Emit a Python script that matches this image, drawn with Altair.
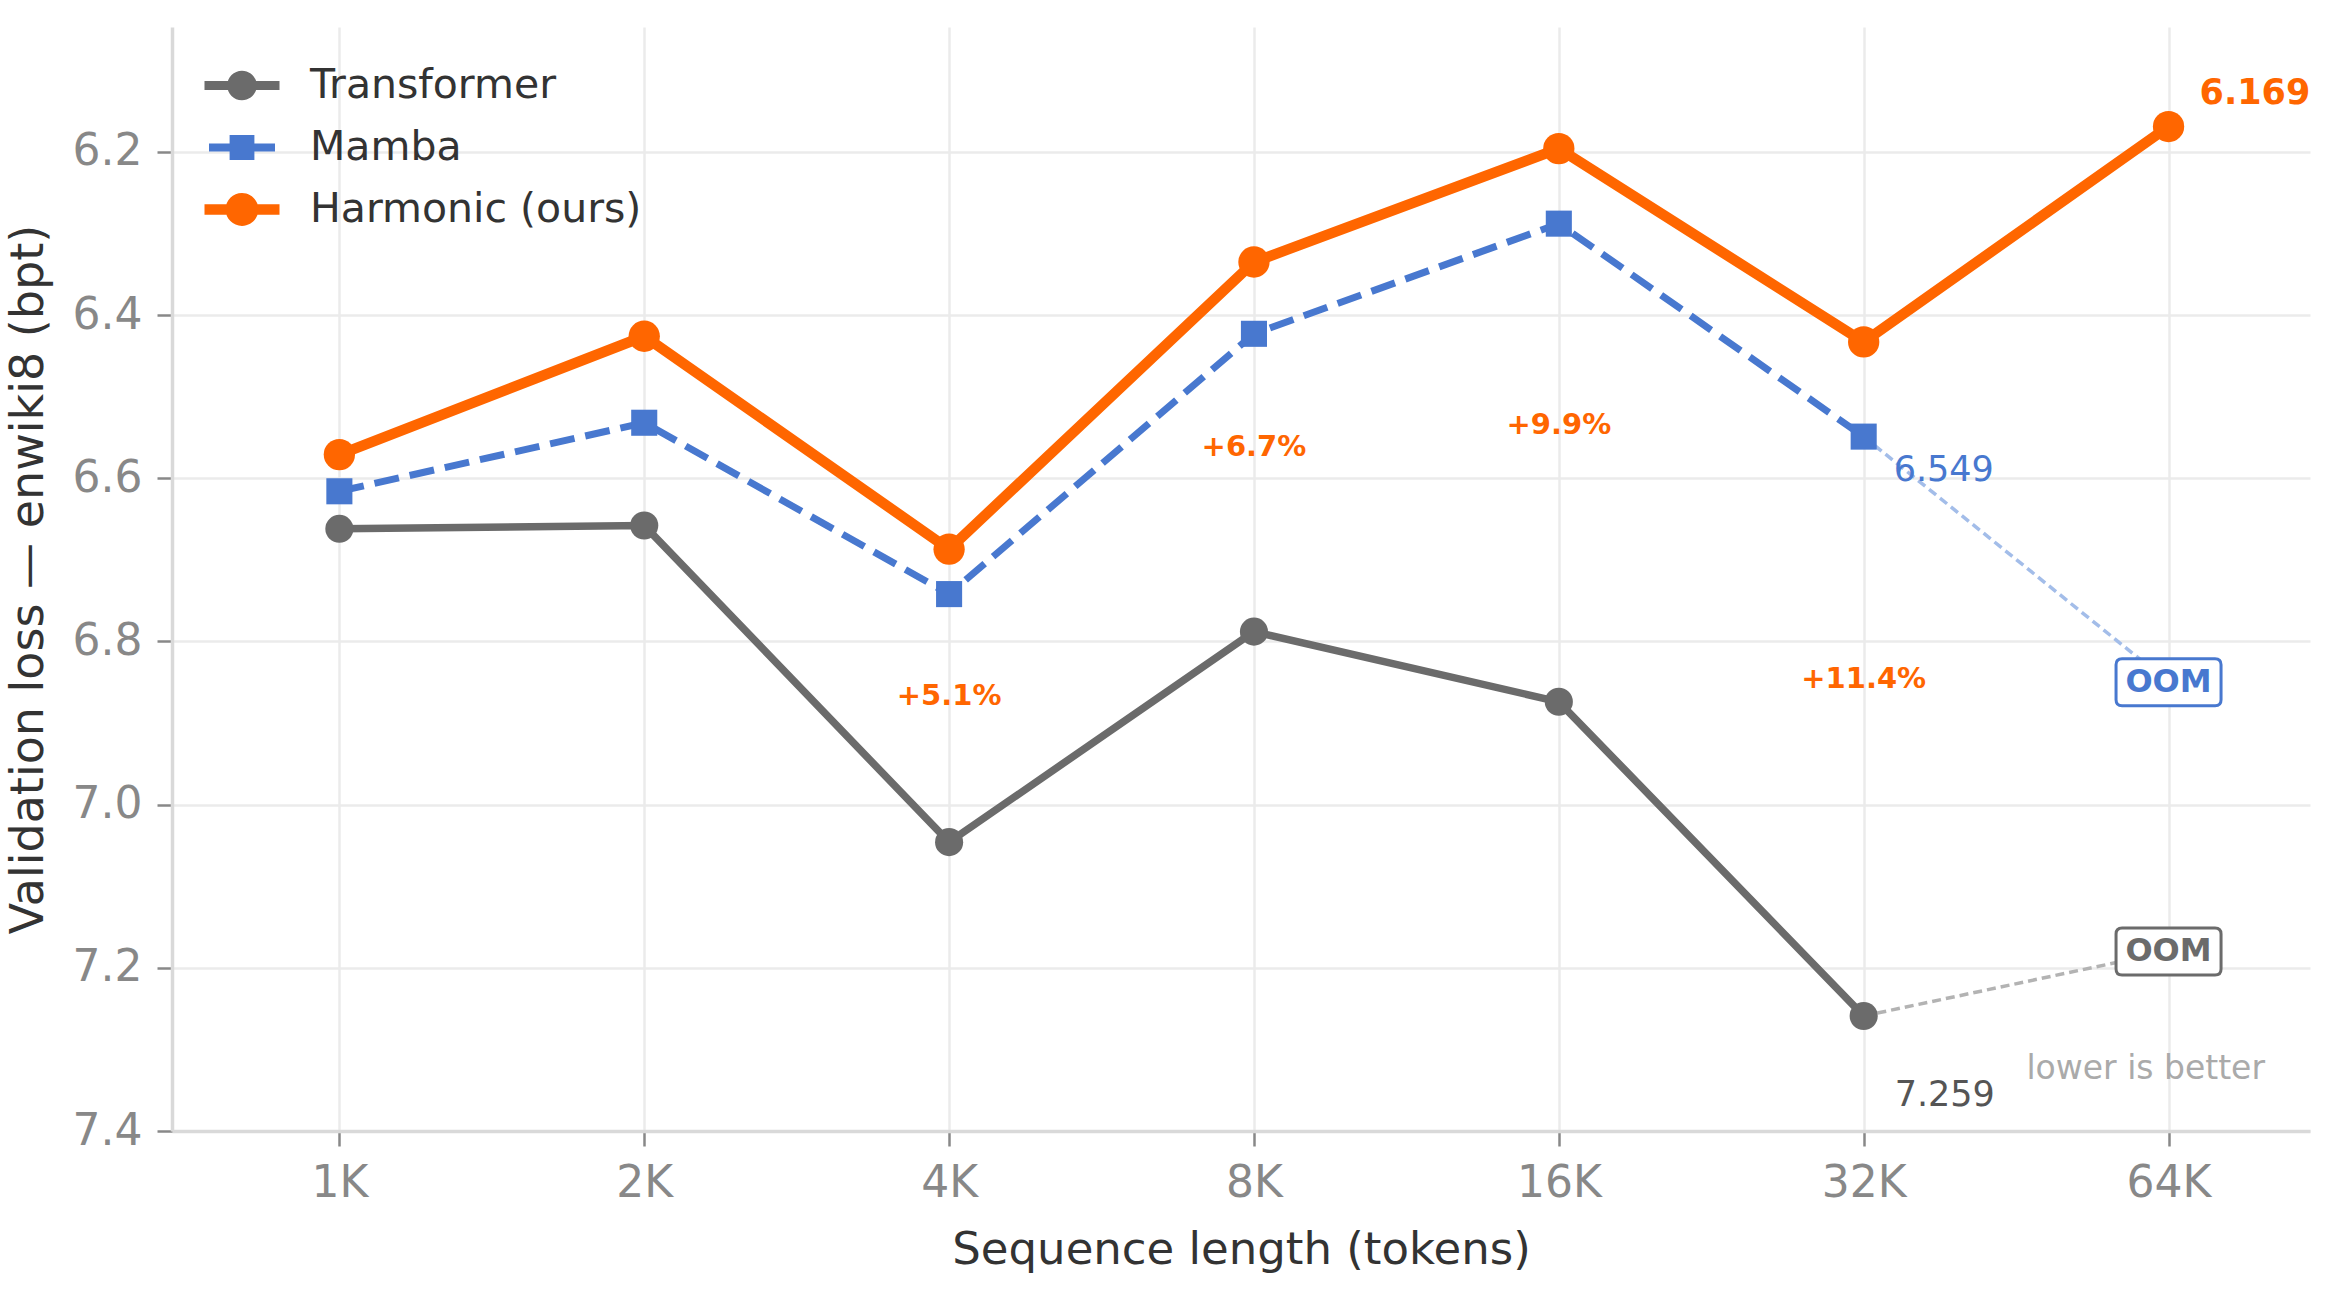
import json

import altair as alt
import pandas as pd

# ---------------------------------------------------------------- data
seq_labels = ["1K", "2K", "4K", "8K", "16K", "32K", "64K"]
series_names = ["Transformer", "Mamba", "Harmonic (ours)"]
series_colors = ["#6b6b6b", "#4878cf", "#ff6600"]

# validation loss in bits per token; Transformer and Mamba run out of memory at 64K
transformer_loss = [6.662, 6.658, 7.046, 6.788, 6.874, 7.259]
mamba_loss = [6.616, 6.532, 6.742, 6.423, 6.288, 6.549]
harmonic_loss = [6.571, 6.426, 6.687, 6.335, 6.196, 6.433, 6.169]

# OOM tags placed at 64K for the models that could not run there
oom_series = ["Transformer", "Mamba"]
oom_loss = [7.180, 6.850]
oom_colors = ["#6b6b6b", "#4878cf"]
oom_link_colors = ["#b3b3b3", "#a3bde9"]

# sequence lengths where the gain over the Transformer is annotated
gain_labels_at = ["4K", "8K", "16K", "32K"]

y_ticks = [6.2, 6.4, 6.6, 6.8, 7.0, 7.2, 7.4]
y_domain = [6.047, 7.4]
x_domain = [-0.549, 6.464]

FONT = "DejaVu Sans"

# ---------------------------------------------------------------- tables
all_losses = [transformer_loss, mamba_loss, harmonic_loss]
rows = []
for name, vals in zip(series_names, all_losses):
    for i, v in enumerate(vals):
        rows.append({"series": name, "idx": i, "seq": seq_labels[i], "loss": v})
df = pd.DataFrame(rows)

gain_rows = []
for lab in gain_labels_at:
    i = seq_labels.index(lab)
    t, h = transformer_loss[i], harmonic_loss[i]
    gain_rows.append({"idx": i, "mid": (t + h) / 2, "txt": f"+{(t - h) / t * 100:.1f}%"})
gain_df = pd.DataFrame(gain_rows)

link_rows = []
oom_idx = seq_labels.index("64K")
for name, y_tag in zip(oom_series, oom_loss):
    last = all_losses[series_names.index(name)]
    link_rows.append({"series": name, "idx": len(last) - 1, "loss": last[-1]})
    link_rows.append({"series": name, "idx": oom_idx, "loss": y_tag})
link_df = pd.DataFrame(link_rows)

oom_df = pd.DataFrame({"series": oom_series, "idx": [oom_idx] * len(oom_series), "loss": oom_loss})

# ---------------------------------------------------------------- encodings
label_expr = json.dumps(seq_labels) + "[datum.value]"


def x_enc():
    return alt.X(
        "idx:Q",
        scale=alt.Scale(domain=x_domain, nice=False, zero=False),
        axis=alt.Axis(
            values=list(range(len(seq_labels))),
            labelExpr=label_expr,
            title="Sequence length (tokens)",
            grid=True,
        ),
    )


def y_enc(field="loss"):
    return alt.Y(
        f"{field}:Q",
        scale=alt.Scale(domain=y_domain, reverse=True, nice=False, zero=False),
        axis=alt.Axis(values=y_ticks, format=".1f",
                      title="Validation loss \u2014 enwiki8 (bpt)", grid=True),
    )


base = alt.Chart(df)
layers = []

# dotted links from the last measured point to the OOM tag
for name, col in zip(oom_series, oom_link_colors):
    layers.append(
        alt.Chart(link_df[link_df.series == name])
        .mark_line(color=col, strokeWidth=3.5, strokeDash=[9, 5])
        .encode(x=x_enc(), y=y_enc())
    )

# series lines and markers
line_style = {
    "Transformer": dict(strokeWidth=7.5),
    "Mamba": dict(strokeWidth=7, strokeDash=[25, 11]),
    "Harmonic (ours)": dict(strokeWidth=10.5),
}
marker_style = {
    "Transformer": dict(shape="circle", size=790),
    "Mamba": dict(shape="square", size=680),
    "Harmonic (ours)": dict(shape="circle", size=980),
}
for name, col in zip(series_names, series_colors):
    sub = df[df.series == name]
    layers.append(
        alt.Chart(sub).mark_line(color=col, **line_style[name]).encode(x=x_enc(), y=y_enc())
    )
    layers.append(
        alt.Chart(sub)
        .mark_point(filled=True, opacity=1, color=col, **marker_style[name])
        .encode(x=x_enc(), y=y_enc())
    )

# legend: line-plus-marker glyphs
legend_paths = [
    "M-1.875,-0.22L1.875,-0.22L1.875,0.22L-1.875,0.22Z"
    "M-0.74,0A0.74,0.74 0 1,1 0.74,0A0.74,0.74 0 1,1 -0.74,0Z",
    "M-1.65,-0.2L1.65,-0.2L1.65,0.2L-1.65,0.2Z"
    "M-0.62,-0.62L0.62,-0.62L0.62,0.62L-0.62,0.62Z",
    "M-1.875,-0.26L1.875,-0.26L1.875,0.26L-1.875,0.26Z"
    "M-0.82,0A0.82,0.82 0 1,1 0.82,0A0.82,0.82 0 1,1 -0.82,0Z",
]
legend_def = alt.Legend(
    title=None,
    orient="none",
    legendX=49.5,
    legendY=38,
    padding=0,
    symbolSize=1600,
    symbolStrokeWidth=0,
    labelFont=FONT,
    labelFontSize=41,
    labelColor="#333333",
    labelOffset=47.5,
    labelLimit=600,
    rowPadding=20,
)
layers.append(
    base.mark_point(filled=True, opacity=1, size=0).encode(
        x=x_enc(),
        y=y_enc(),
        color=alt.Color("series:N", scale=alt.Scale(domain=series_names, range=series_colors),
                        legend=legend_def),
        shape=alt.Shape("series:N", scale=alt.Scale(domain=series_names, range=legend_paths),
                        legend=legend_def),
    )
)

# OOM tags
tag_path = ("M-1.86,-0.94L1.86,-0.94Q2.1,-0.94 2.1,-0.7L2.1,0.7Q2.1,0.94 1.86,0.94"
            "L-1.86,0.94Q-2.1,0.94 -2.1,0.7L-2.1,-0.7Q-2.1,-0.94 -1.86,-0.94Z")
for name, col in zip(oom_series, oom_colors):
    sub = oom_df[oom_df.series == name]
    layers.append(
        alt.Chart(sub)
        .mark_point(shape=tag_path, size=2500, filled=True, fill="white", stroke=col,
                    strokeWidth=3, opacity=1)
        .encode(x=x_enc(), y=y_enc())
    )
    layers.append(
        alt.Chart(sub)
        .mark_text(text="OOM", font=FONT, fontSize=32, fontWeight="bold", color=col,
                   align="center", baseline="middle")
        .encode(x=x_enc(), y=y_enc())
    )

# relative gain over the Transformer, halfway between the two curves
layers.append(
    alt.Chart(gain_df)
    .mark_text(font=FONT, fontSize=29, fontWeight="bold", color="#ff6600",
               align="center", baseline="middle")
    .encode(x=x_enc(), y=y_enc("mid"), text="txt:N")
)

# end-point values
end_labels = [
    ("Harmonic (ours)", harmonic_loss, "#ff6600", "bold", 31, -34),
    ("Mamba", mamba_loss, "#4878cf", "normal", 30, 33),
    ("Transformer", transformer_loss, "#555555", "normal", 31, 79),
]
for name, vals, col, weight, dx, dy in end_labels:
    sub = pd.DataFrame({"idx": [len(vals) - 1], "loss": [vals[-1]], "txt": [f"{vals[-1]:.3f}"]})
    layers.append(
        alt.Chart(sub)
        .mark_text(font=FONT, fontSize=35, fontWeight=weight, color=col,
                   align="left", baseline="middle", dx=dx, dy=dy)
        .encode(x=x_enc(), y=y_enc(), text="txt:N")
    )

# direction hint in the lower-right corner
hint = pd.DataFrame({"idx": [x_domain[1]], "loss": [y_domain[1]], "txt": ["lower is better"]})
layers.append(
    alt.Chart(hint)
    .mark_text(font=FONT, fontSize=33, color="#aaaaaa", align="right",
               baseline="alphabetic", dx=-45, dy=-52)
    .encode(x=x_enc(), y=y_enc(), text="txt:N")
)

chart = (
    alt.layer(*layers)
    .properties(
        width=2138,
        height=1104,
        autosize=alt.AutoSizeParams(type="none"),
        padding={"left": 172, "top": 27, "right": 30, "bottom": 174},
        background="white",
    )
    .configure_view(stroke=None)
    .configure_axis(
        labelFont=FONT,
        titleFont=FONT,
        labelFontSize=44,
        labelColor="#888888",
        titleFontSize=45,
        titleColor="#333333",
        titleFontWeight="normal",
        gridColor="#ebebeb",
        gridWidth=2.5,
        domainColor="#d9d9d9",
        domainWidth=3.5,
        tickColor="#888888",
        tickWidth=2.5,
        tickSize=15,
        labelPadding=15,
    )
    .configure_axisX(titlePadding=22)
    .configure_axisY(titlePadding=20, titleFontSize=46)
)

chart.save("out.html", embed_options={"renderer": "svg", "actions": False})
